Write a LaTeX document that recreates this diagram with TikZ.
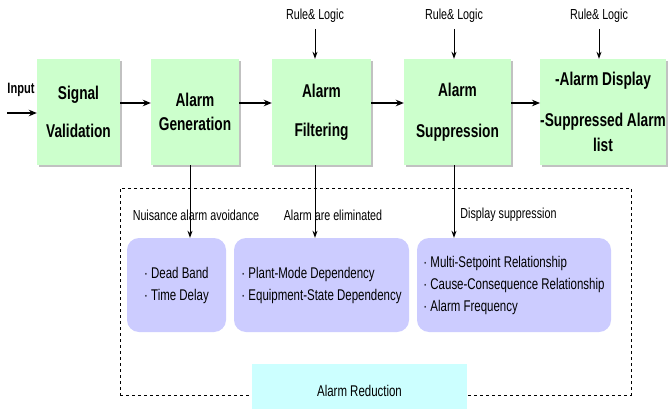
\documentclass[tikz,border=0pt]{standalone}
\usepackage{fontspec}
\setmainfont{Liberation Sans}[FakeStretch=0.74]
\usetikzlibrary{arrows.meta,shadows}
\definecolor{boxgreen}{HTML}{CCFFCC}
\definecolor{boxpurple}{HTML}{CCCCFF}
\definecolor{boxcyan}{HTML}{CCFFFF}
\begin{document}
\begin{tikzpicture}[x=1pt,y=-1pt,
  stage/.style={fill=boxgreen, draw=none, minimum height=106pt, inner sep=0pt, align=center,
    font=\fontsize{18.5}{22}\selectfont\bfseries,
    drop shadow={shadow xshift=2pt,shadow yshift=-2pt,fill=black!40,opacity=0.6}},
  method/.style={fill=boxpurple, rounded corners=12pt, minimum height=94pt, inner sep=0pt, align=left,
    font=\fontsize{15.5}{22}\selectfont},
  lbl/.style={font=\fontsize{14.5}{17}\selectfont, inner sep=0pt},
  arr/.style={-{Stealth[length=8pt,width=6.5pt]}, line width=1.4pt},
  thinarr/.style={-{Stealth[length=7pt,width=5pt]}, line width=0.9pt},
]
\path[use as bounding box, clip] (0,0) rectangle (671,409);
\fill[white] (0,0) rectangle (671,409);

% dashed frame
\node[draw, dashed, line width=0.8pt, minimum width=511pt, minimum height=207pt, inner sep=0pt] (frame) at (375.5,291.5) {};
\node[fill=boxcyan, minimum width=215pt, minimum height=54pt, inner sep=0pt,
  font=\fontsize{15.5}{18}\selectfont] (red) at (359.5,391) {Alarm Reduction};

% main stages
\node[stage, minimum width=83pt]  (sig)  at (78.5,112)  {Signal\\[16pt]Validation};
\node[stage, minimum width=88pt]  (gen)  at (195,112)   {Alarm\\[2pt]Generation};
\node[stage, minimum width=99pt]  (filt) at (321.5,112) {Alarm\\[17pt]Filtering};
\node[stage, minimum width=107pt] (supp) at (457.5,112) {Alarm\\[19pt]Suppression};
\node[stage, minimum width=122pt] (disp) at (603,112)   {-Alarm Display\\[19pt]-Suppressed Alarm\\[3pt]list};

% input
\node[font=\fontsize{15}{18}\selectfont\bfseries, inner sep=0pt] (inp) at (21,90) {Input};
\coordinate (inStart) at (7,113);
\draw[arr] (inStart) -- (inStart -| sig.west);

% horizontal flow
\draw[arr] ([yshift=9pt]sig.east) -- ([yshift=9pt]sig.east -| gen.west);
\draw[arr] ([yshift=9pt]gen.east) -- ([yshift=9pt]gen.east -| filt.west);
\draw[arr] ([yshift=9pt]filt.east) -- ([yshift=9pt]filt.east -| supp.west);
\draw[arr] ([yshift=9pt]supp.east) -- ([yshift=9pt]supp.east -| disp.west);

% rule & logic
\node[lbl] (rl1) at (315,16) {Rule\& Logic};
\node[lbl] (rl2) at (454,16) {Rule\& Logic};
\node[lbl] (rl3) at (599,16) {Rule\& Logic};
\draw[thinarr] ([yshift=-6pt]rl1.south) -- (rl1 |- filt.north);
\draw[thinarr] ([yshift=-6pt]rl2.south) -- (rl2 |- supp.north);
\draw[thinarr] ([yshift=-6pt]rl3.south) -- (rl3 |- disp.north);

% reduction methods
\node[method, minimum width=99pt]  (m1) at (176.5,285) {· Dead Band\\· Time Delay};
\node[method, minimum width=175pt] (m2) at (321.5,285) {· Plant-Mode Dependency\\· Equipment-State Dependency};
\node[method, minimum width=194pt] (m3) at (514,285)   {· Multi-Setpoint Relationship\\· Cause-Consequence Relationship\\· Alarm Frequency};

\draw[thinarr] ([xshift=-5pt]gen.south) -- ([xshift=-5pt]gen.south |- m1.north);
\draw[thinarr] ([xshift=-6.5pt]filt.south) -- ([xshift=-6.5pt]filt.south |- m2.north);
\draw[thinarr] ([xshift=-3.5pt]supp.south) -- ([xshift=-3.5pt]supp.south |- m3.north);

\node[lbl] (l1) at (196,215)   {Nuisance alarm avoidance};
\node[lbl] (l2) at (333,215)   {Alarm are eliminated};
\node[lbl] (l3) at (508.5,215) {Display suppression};
\end{tikzpicture}
\end{document}
